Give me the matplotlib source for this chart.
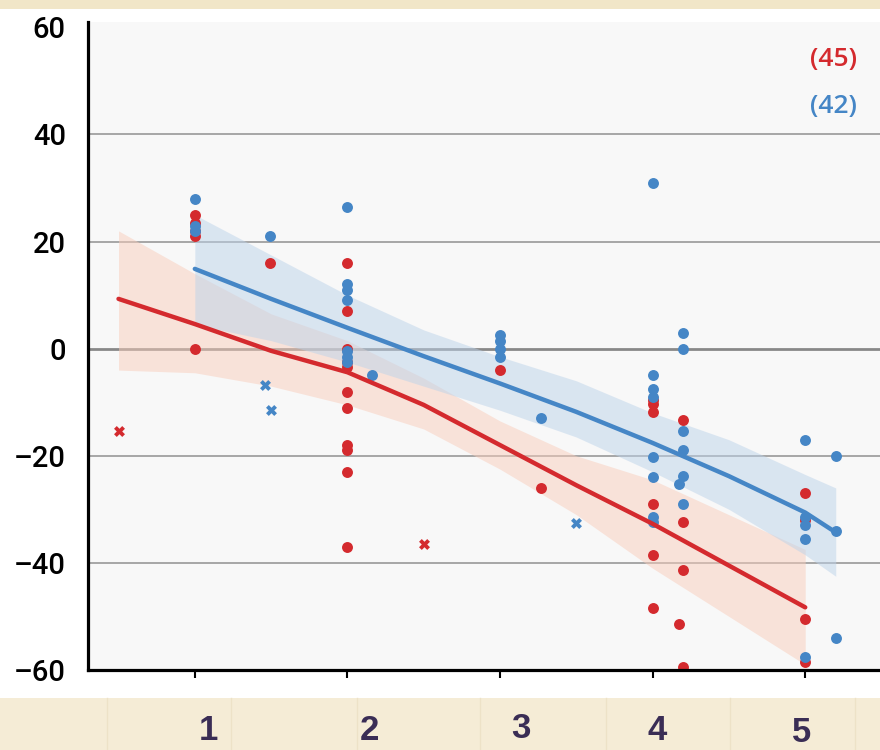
import numpy as np
import matplotlib
matplotlib.use("Agg")
import matplotlib.pyplot as plt
from matplotlib.patches import Rectangle
from matplotlib.lines import Line2D

# --- data ---
red_x = [1, 1, 1, 1, 1, 1.49,
         2, 2, 2, 2, 2, 2, 2, 2, 2, 2, 2,
         3, 3.27,
         4, 4, 4, 4, 4, 4,
         4.2, 4.2, 4.2, 4.2, 4.17,
         5, 5, 5, 5]
red_y = [25, 23.5, 22, 21, 0, 16,
         16, 7, 0, -2.5, -3.5, -8, -11, -18, -19, -23, -37,
         -4, -26,
         -10.3, -11.9, -29, -38.6, -48.5, -9.5,
         -13.4, -32.4, -41.4, -59.5, -51.5,
         -27, -32, -50.5, -58.5]

blue_x = [1, 1, 1, 1.49,
          2, 2, 2, 2, 2, 2, 2, 2.16,
          3, 3, 3, 3, 3.27,
          4, 4, 4, 4, 4, 4, 4, 4,
          4.2, 4.2, 4.2, 4.2, 4.2, 4.17, 4.2,
          5, 5, 5, 5, 5,
          5.2, 5.2, 5.2]
blue_y = [28, 23, 22, 21,
          26.5, 12, 11, 9, -0.5, -1.5, -2.5, -5,
          2.5, 1.5, 0, -1.5, -13,
          31, -5, -7.5, -9.1, -20.3, -24, -31.5, -32.4,
          3, 0, -15.3, -19, -23.7, -25.2, -29,
          -17, -31.5, -33, -35.5, -57.5,
          -20, -34, -54]

red_cross_x = [0.5, 2.5]
red_cross_y = [-15.3, -36.4]
blue_cross_x = [1.46, 1.5, 3.5]
blue_cross_y = [-6.7, -11.4, -32.6]

# fitted curves and confidence bands
red_fit_x = [0.5, 1, 1.5, 2, 2.5, 3, 3.5, 4, 4.5, 5]
red_fit = [9.3, 4.6, -0.4, -4.4, -10.5, -18, -25.5, -32.7, -40.5, -48.3]
red_lo = [-4, -4.5, -7, -10.5, -15, -22.5, -31, -41, -50, -59]
red_hi = [22, 14, 6.5, 1.5, -5.5, -13.5, -20, -24.5, -31, -37.5]

blue_fit_x = [1, 1.5, 2, 2.5, 3, 3.5, 4, 4.5, 5, 5.2]
blue_fit = [14.9, 9.3, 3.9, -1.4, -6.5, -11.8, -17.6, -23.8, -30.6, -34.3]
blue_lo = [4.5, 1.5, -2.5, -7, -11.5, -16.5, -23, -30, -38.5, -42.5]
blue_hi = [25, 17.5, 10, 3.5, -1.5, -6, -12, -17, -23.5, -26]

counts = ["(45)", "(42)"]
y_ticks = [60, 40, 20, 0, -20, -40, -60]
x_ticks = [1, 2, 3, 4, 5]
x_labels = ["1", "2", "3", "4", "5"]

RED = "#d42a2e"
BLUE = "#4586c6"
TAN = "#f5ecd6"

fig = plt.figure(figsize=(8.8, 7.5), dpi=100)
fig.patch.set_facecolor("white")

# tan strips top and bottom
fig.patches.append(Rectangle((0, 1 - 9 / 750), 1, 9 / 750, transform=fig.transFigure,
                             facecolor="#f1e6c8", edgecolor="none", zorder=0))
fig.patches.append(Rectangle((0, 0), 1, 52 / 750, transform=fig.transFigure,
                             facecolor=TAN, edgecolor="none", zorder=0))
for px in [107, 231, 357, 480, 606, 730, 855]:
    fig.lines.append(Line2D([px / 880, px / 880], [0, 52 / 750], transform=fig.transFigure,
                            color="#ede2c7", lw=1, zorder=1))

ax = fig.add_axes([88 / 880, 80 / 750, 792 / 880, 648 / 750])
ax.set_facecolor("#f8f8f8")
ax.set_xlim(0.3, 5.49)
ax.set_ylim(-60, 61)

for v in [40, 20, -20, -40]:
    ax.axhline(v, color="#a0a0a0", lw=1.3, zorder=1)
ax.axhline(0, color="#888888", lw=2, zorder=1)

ax.fill_between(red_fit_x, red_lo, red_hi, color="#f8cdbb", alpha=0.5, lw=0, zorder=2)
ax.fill_between(blue_fit_x, blue_lo, blue_hi, color="#bcd3ea", alpha=0.5, lw=0, zorder=2)

ax.scatter(red_x, red_y, s=62, color=RED, lw=0, zorder=4)
ax.scatter(blue_x, blue_y, s=62, color=BLUE, lw=0, zorder=4)
ax.scatter(red_cross_x, red_cross_y, s=62, marker="X", color=RED, lw=0, zorder=4)
ax.scatter(blue_cross_x, blue_cross_y, s=62, marker="X", color=BLUE, lw=0, zorder=4)

ax.plot(red_fit_x, red_fit, color=RED, lw=3.2, solid_capstyle="round", zorder=5)
ax.plot(blue_fit_x, blue_fit, color=BLUE, lw=3.2, solid_capstyle="round", zorder=5)

ax.text(0.971, 54, counts[0], transform=ax.get_yaxis_transform(), ha="right", va="center",
        color=RED, fontsize=19, fontweight="semibold", family=["Open Sans", "DejaVu Sans"])
ax.text(0.971, 45.3, counts[1], transform=ax.get_yaxis_transform(), ha="right", va="center",
        color=BLUE, fontsize=19, fontweight="semibold", family=["Open Sans", "DejaVu Sans"])

for s in ["top", "right"]:
    ax.spines[s].set_visible(False)
for s in ["left", "bottom"]:
    ax.spines[s].set_linewidth(2.3)
    ax.spines[s].set_color("black")
    ax.spines[s].set_zorder(6)

ax.set_yticks(y_ticks)
ax.set_yticklabels([str(v).replace("-", "\u2013") for v in y_ticks],
                   family=["Roboto", "DejaVu Sans"], fontweight="medium", fontsize=21)
ax.tick_params(axis="y", length=0, pad=16)
ax.set_xticks(x_ticks)
ax.set_xticklabels([])
ax.tick_params(axis="x", direction="out", length=6, width=1.5, color="black")

# category labels in the bottom strip
label_pos = [(208, 730), (369, 730), (521, 728), (657, 731), (802, 732)]
for lab, (px, py) in zip(x_labels, label_pos):
    fig.text(px / 880, 1 - py / 750, lab, ha="center", va="center", fontsize=25,
             fontweight="bold", color="#3a2d55", family=["Liberation Sans", "DejaVu Sans"])

fig.savefig("out.png", dpi=100)
